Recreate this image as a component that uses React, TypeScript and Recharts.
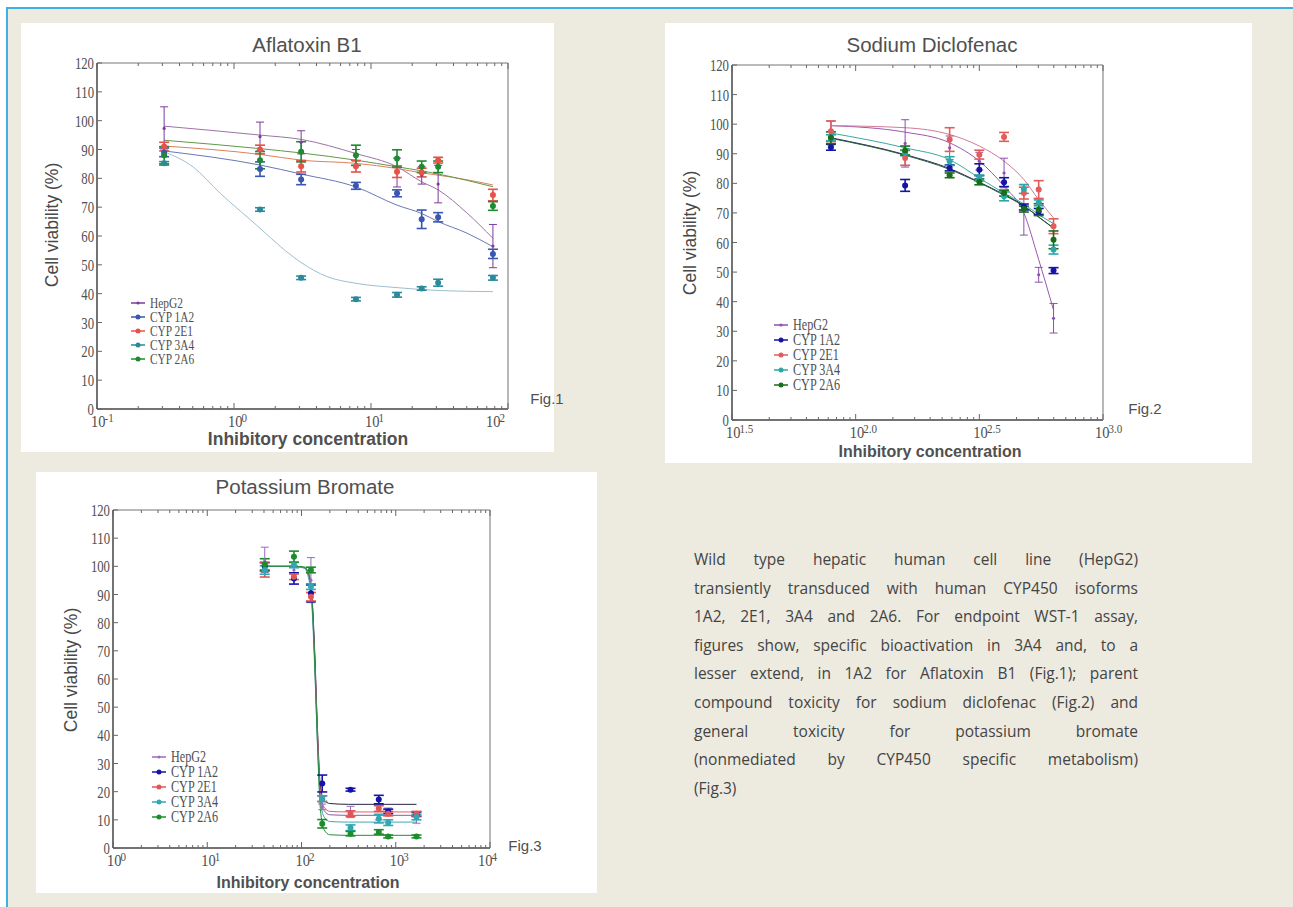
import React from 'react';
import { ComposedChart, Line, Scatter, XAxis, YAxis, ErrorBar, Legend } from 'recharts';

const seriesNames = ['HepG2', 'CYP 1A2', 'CYP 2E1', 'CYP 3A4', 'CYP 2A6'];
const yTicks = [0, 10, 20, 30, 40, 50, 60, 70, 80, 90, 100, 110, 120];

// Fig.1 Aflatoxin B1 (x = log10 concentration)
const aflaMajors = [-1, 0, 1, 2];
const aflaExp = ['-1', '0', '1', '2'];
const aflaX = [-0.51, 0.19, 0.49, 0.89, 1.19, 1.37, 1.49, 1.89];
const aflaHepG2 = [97.3, 94.5, 92.5, 88, 82, 81, 78, 56.5];
const aflaHepG2Err = [7.5, 5, 4, 2, 5, 3, 6.5, 7.5];
const afla1A2 = [89, 83.2, 79.6, 77.4, 74.8, 65.8, 66.5, 53.8];
const afla1A2Err = [1.5, 2.5, 1.8, 1.2, 1.2, 3.2, 1.6, 1.6];
const afla2E1 = [91, 90, 84.2, 84.2, 82.3, 82, 86.3, 74.2];
const afla2E1Err = [1.5, 1.5, 2, 2, 2, 1.5, 1, 2];
const afla3A4 = [85.2, 69.2, 45.5, 38.1, 39.6, 41.8, 43.8, 45.5];
const afla3A4Err = [0.6, 0.6, 0.6, 0.6, 0.8, 0.6, 1.2, 0.8];
const afla2A6 = [88, 86.3, 89.2, 88, 86.9, 84, 84, 70.4];
const afla2A6Err = [3, 3, 3.5, 3.5, 3, 2, 2, 1.5];
const aflaFitX = [-0.51, 0.19, 0.49, 0.89, 1.19, 1.37, 1.49, 1.7, 1.89];
const aflaFitHepG2 = [98.1, 95, 93.5, 88.6, 84, 78.8, 76, 68, 59.2];
const aflaFit1A2 = [89.5, 84.6, 81.5, 77, 70.7, 67.8, 65, 61, 56.3];
const aflaFit2E1 = [91.2, 88.3, 86.3, 85.2, 83.4, 81.9, 81.1, 79.5, 77.7];
const aflaFit2A6 = [93.2, 90.3, 88.8, 86.3, 84, 82.6, 81.5, 79.3, 77.1];
const aflaFit3A4X = [-0.51, -0.3, -0.1, 0.19, 0.34, 0.49, 0.68, 0.89, 1.19, 1.49, 1.89];
const aflaFit3A4 = [89.2, 84, 74.8, 62.7, 56.3, 50.8, 45.9, 43.6, 42.1, 41.1, 40.7];

// Fig.2 Sodium Diclofenac
const dicloMajors = [1.5, 2, 2.5, 3];
const dicloExp = ['1.5', '2.0', '2.5', '3.0'];
const dicloX = [1.9, 2.2, 2.38, 2.5, 2.6, 2.68, 2.74, 2.8];
const dicloHepG2 = [97, 93.5, 92, 87.5, 83.5, 71, 49.1, 34.4];
const dicloHepG2Err = [4, 8, 4, 3, 5, 8.5, 2.5, 5];
const diclo1A2 = [92.2, 79.3, 85.2, 84.6, 80.4, 72, 70.5, 50.5];
const diclo1A2Err = [1, 2, 1, 2, 1.5, 1, 1, 1];
const diclo2E1 = [97.6, 88.6, 94.8, 89.7, 95.7, 76.7, 77.9, 65.5];
const diclo2E1Err = [3.5, 2.5, 4, 1.5, 1.5, 2, 3, 2.5];
const diclo3A4 = [95.4, 90.3, 87.5, 81.8, 75.6, 78.1, 73.4, 57.6];
const diclo3A4Err = [1, 1, 1.5, 1, 1.5, 1.5, 1, 1.5];
const diclo2A6 = [95.4, 91.1, 82.7, 80.5, 76.7, 71.3, 71.1, 60.9];
const diclo2A6Err = [2, 1.5, 0.8, 1, 1, 1, 2, 3];
const dicloFitHepG2 = [99.5, 97.3, 93.7, 87.5, 79, 70, 54.2, 37.2];
const dicloFit1A2 = [95.4, 89.7, 85, 80.4, 76.2, 72.5, 68.6, 64.9];
const dicloFit2E1 = [99.5, 98.8, 96.5, 92.6, 87.5, 81.3, 74.5, 68.3];
const dicloFit3A4 = [97, 92, 88, 81.8, 76.7, 73, 69.4, 66.4];
const dicloFit2A6 = [95.2, 89.5, 84.7, 80.2, 76, 72.3, 68.6, 64.8];

// Fig.3 Potassium Bromate
const bromMajors = [0, 1, 2, 3, 4];
const bromExp = ['0', '1', '2', '3', '4'];
const bromX = [1.61, 1.92, 2.1, 2.22, 2.52, 2.82, 2.92, 3.22];
const bromHepG2 = [102.3, 98.7, 95.1, 14.6, 12.8, 11, 13.2, 10.8];
const bromHepG2Err = [4.5, 1.5, 8, 1, 2, 1, 1, 2];
const brom1A2 = [99.9, 95.7, 90.4, 22.9, 20.7, 17.2, 13, 12];
const brom1A2Err = [1.5, 2, 3, 3, 0.5, 1.5, 0.8, 0.8];
const brom2E1 = [98.7, 96.3, 89.2, 17.5, 12.2, 14, 12.2, 12.2];
const brom2E1Err = [2.5, 1, 1.5, 1, 1, 1, 0.8, 0.8];
const brom3A4 = [98.7, 100.5, 92.8, 17.5, 7.2, 10.4, 9, 11];
const brom3A4Err = [1.5, 1, 1, 1, 1, 1.5, 1, 1];
const brom2A6 = [100.7, 103.4, 98.7, 8.6, 5.1, 5.7, 4.1, 4.1];
const brom2A6Err = [2, 2, 1, 1.5, 0.8, 0.8, 0.5, 0.5];
const bromFitX = [1.61, 1.92, 2.03, 2.08, 2.11, 2.14, 2.17, 2.2, 2.24, 2.3, 2.5, 3.22];
const bromFitHepG2 = [100, 100, 99.5, 96, 89, 68, 40, 19, 13.3, 11.8, 11.6, 11.6];
const bromFit1A2 = [100, 100, 99.5, 97, 90, 70, 42, 22, 17, 15.8, 15.5, 15.5];
const bromFit2E1 = [100, 100, 99.5, 96, 88, 67, 40, 20, 14.5, 13, 12.8, 12.8];
const bromFit3A4 = [100, 100, 99.3, 95, 86, 64, 37, 17, 11, 9.4, 9.2, 9.2];
const bromFit2A6 = [100, 100, 99.8, 97, 89, 66, 36, 14, 6.5, 4.7, 4.5, 4.5];

const paragraph = [
  'Wild type hepatic human cell line (HepG2)',
  'transiently transduced with human CYP450 isoforms',
  '1A2, 2E1, 3A4 and 2A6. For endpoint WST-1 assay,',
  'figures show, specific bioactivation in 3A4 and, to a',
  'lesser extend, in 1A2 for Aflatoxin B1 (Fig.1); parent',
  'compound toxicity for sodium diclofenac (Fig.2) and',
  'general toxicity for potassium bromate',
  '(nonmediated by CYP450 specific metabolism)',
  '(Fig.3)',
];

type Series = {
  px: number[]; color: string; fit: string; r: number; y: number[]; err: number[];
  fitX: number[]; fitY: number[];
};

const pts = (x: number[], y: number[], err?: number[]) =>
  x.map((v, i) => (err ? { x: v, y: y[i], err: err[i] } : { x: v, y: y[i] }));

function minorTicks(majors: number[]) {
  const out: number[] = [];
  for (let i = 0; i < majors.length - 1; i++) {
    const span = majors[i + 1] - majors[i];
    for (let k = 2; k <= 9; k++) out.push(majors[i] + span * Math.log10(k));
  }
  return out;
}

const serif = '"Liberation Serif", "Times New Roman", serif';
const sans = '"Liberation Sans", Arial, sans-serif';
const ink = '#505050';

function XTick(props: any) {
  const { x, y, payload, majors, labels, top, lastShift } = props;
  const idx = majors.findIndex((m: number) => Math.abs(m - payload.value) < 1e-6);
  const len = idx >= 0 ? 6 : 3;
  const y2 = top ? y + len : y - len;
  const tx = x - 6 - (idx === majors.length - 1 ? lastShift : 0);
  return (
    <g>
      <line x1={x} y1={y} x2={x} y2={y2} stroke="#666" strokeWidth={1} />
      {!top && idx >= 0 && (
        <text transform={`translate(${tx},${y + 18}) scale(0.85,1)`} textAnchor="start" fontFamily={serif} fontSize={17} fill={ink}>
          10<tspan fontSize={13} dy={-5} dx={-1}>{labels[idx]}</tspan>
        </text>
      )}
    </g>
  );
}

function YTick(props: any) {
  const { x, y, payload, right } = props;
  return (
    <g>
      <line x1={x} y1={y} x2={right ? x - 5 : x + 5} y2={y} stroke="#666" strokeWidth={1} />
      {!right && (
        <text transform={`translate(${x - 3},${y + 6}) scale(0.75,1)`} textAnchor="end" fontFamily={serif} fontSize={17} fill={ink}>
          {payload.value}
        </text>
      )}
    </g>
  );
}

type PanelProps = {
  left: number; top: number; width: number; height: number;
  plot: { l: number; r: number; t: number; b: number };
  domain: [number, number]; majors: number[]; exps: string[]; lastShift: number;
  series: Series[]; title: string; fig: string;
  titlePos: [number, number]; yLabelPos: [number, number]; xLabelPos: [number, number]; figPos: [number, number];
  legendPos: [number, number]; rowH: number; xLabelSize: number;
};

function Panel(p: PanelProps) {
  const ticks = [...p.majors, ...minorTicks(p.majors)].sort((a, b) => a - b);
  const legend = () => (
    <div style={{ fontFamily: serif, color: ink }}>
      {p.series.map((s, i) => (
        <div key={i} style={{ display: 'flex', alignItems: 'center', height: p.rowH }}>
          <svg width={14} height={8} style={{ flex: 'none' }}>
            <line x1={0} y1={4} x2={14} y2={4} stroke={s.color} strokeWidth={1.5} />
            <circle cx={7} cy={4} r={s.r > 2 ? 2.5 : 1.5} fill={s.color} />
          </svg>
          <span style={{ display: 'inline-block', fontSize: p.rowH + 1, lineHeight: `${p.rowH}px`, height: p.rowH, marginLeft: 5, transform: 'scaleX(0.76)', transformOrigin: 'left center', whiteSpace: 'nowrap' }}>
            {seriesNames[i]}
          </span>
        </div>
      ))}
    </div>
  );
  return (
    <div style={{ position: 'absolute', left: p.left, top: p.top, width: p.width, height: p.height, background: '#fff' }}>
      <ComposedChart width={p.width} height={p.height} margin={{ top: p.plot.t - 1, right: p.plot.r - 1, bottom: 0, left: 0 }}>
        <XAxis xAxisId={0} dataKey="x" type="number" domain={p.domain} allowDataOverflow ticks={ticks} interval={0}
          height={p.plot.b} tickSize={0} tickMargin={0} tickLine={false} axisLine={{ stroke: '#444', strokeWidth: 1.5 }}
          tick={(t: any) => <XTick {...t} majors={p.majors} labels={p.exps} lastShift={p.lastShift} />} />
        <XAxis xAxisId="top" orientation="top" dataKey="x" type="number" domain={p.domain} allowDataOverflow ticks={ticks} interval={0}
          height={1} tickSize={0} tickMargin={0} tickLine={false} axisLine={{ stroke: '#777', strokeWidth: 1.2 }}
          tick={(t: any) => <XTick {...t} majors={p.majors} labels={p.exps} top lastShift={0} />} />
        <YAxis yAxisId={0} type="number" domain={[0, 120]} ticks={yTicks} interval={0} width={p.plot.l}
          tickSize={0} tickMargin={0} tickLine={false} axisLine={{ stroke: '#444', strokeWidth: 1.5 }}
          tick={(t: any) => <YTick {...t} />} />
        <YAxis yAxisId="right" orientation="right" type="number" domain={[0, 120]} ticks={yTicks} interval={0} width={1}
          tickSize={0} tickMargin={0} tickLine={false} axisLine={{ stroke: '#888', strokeWidth: 1.2 }}
          tick={(t: any) => <YTick {...t} right />} />
        <Legend layout="vertical" align="center" verticalAlign="middle" content={legend}
          wrapperStyle={{ left: p.legendPos[0], top: p.legendPos[1], width: 100 }} />
        {p.series.map((s, i) => (
          <Line key={`f${i}`} data={pts(s.fitX, s.fitY)} dataKey="y" type="monotone" stroke={s.fit} strokeWidth={1}
            dot={false} isAnimationActive={false} legendType="none" />
        ))}
        {p.series.map((s, i) => (
          <Scatter key={`s${i}`} data={pts(s.px, s.y, s.err)} dataKey="y"
            isAnimationActive={false} legendType="none"
            shape={(d: any) => <circle cx={d.cx} cy={d.cy} r={s.r} fill={s.color} />}>
            <ErrorBar dataKey="err" direction="y" width={s.r > 2 ? 5 : 4} stroke={s.color} strokeWidth={s.r > 2 ? 1.6 : 1} />
          </Scatter>
        ))}
      </ComposedChart>
      <div style={{ position: 'absolute', left: p.titlePos[0], top: p.titlePos[1], transform: 'translate(-50%,-50%)', fontFamily: sans, fontSize: 20.5, color: ink, whiteSpace: 'nowrap' }}>{p.title}</div>
      <div style={{ position: 'absolute', left: p.yLabelPos[0], top: p.yLabelPos[1], transform: 'translate(-50%,-50%) rotate(-90deg)', fontFamily: sans, fontSize: 17.5, color: '#484848', whiteSpace: 'nowrap' }}>Cell viability (%)</div>
      <div style={{ position: 'absolute', left: p.xLabelPos[0], top: p.xLabelPos[1], transform: 'translate(-50%,-50%)', fontFamily: sans, fontSize: p.xLabelSize, fontWeight: 'bold', color: ink, whiteSpace: 'nowrap', lineHeight: 1 }}>Inhibitory concentration</div>
      <div style={{ position: 'absolute', left: p.figPos[0], top: p.figPos[1], transform: 'translate(-50%,-50%)', fontFamily: sans, fontSize: 15, color: ink, whiteSpace: 'nowrap' }}>{p.fig}</div>
    </div>
  );
}

const mk = (px: number[], color: string, fit: string, r: number, y: number[], err: number[], fitX: number[], fitY: number[]): Series =>
  ({ px, color, fit, r, y, err, fitX, fitY });

const aflaSeries = [
  mk(aflaX, '#7d3c98', '#9c73a8', 1.6, aflaHepG2, aflaHepG2Err, aflaFitX, aflaFitHepG2),
  mk(aflaX, '#3a56b0', '#6a78b8', 3, afla1A2, afla1A2Err, aflaFitX, aflaFit1A2),
  mk(aflaX, '#e8504a', '#e0805a', 3, afla2E1, afla2E1Err, aflaFitX, aflaFit2E1),
  mk(aflaX, '#2a8a9a', '#9dbfd0', 3, afla3A4, afla3A4Err, aflaFit3A4X, aflaFit3A4),
  mk(aflaX, '#1f8a32', '#5f9a48', 3, afla2A6, afla2A6Err, aflaFitX, aflaFit2A6),
];
const dicloSeries = [
  mk(dicloX, '#8e4fb0', '#9a58b0', 1.6, dicloHepG2, dicloHepG2Err, dicloX, dicloFitHepG2),
  mk(dicloX, '#1515a5', '#2a2a70', 3, diclo1A2, diclo1A2Err, dicloX, dicloFit1A2),
  mk(dicloX, '#e25c5c', '#d27a9a', 3, diclo2E1, diclo2E1Err, dicloX, dicloFit2E1),
  mk(dicloX, '#2aa8a8', '#3aa8a0', 3, diclo3A4, diclo3A4Err, dicloX, dicloFit3A4),
  mk(dicloX, '#1a6e1a', '#2a5a2a', 3, diclo2A6, diclo2A6Err, dicloX, dicloFit2A6),
];
const bromSeries = [
  mk(bromX, '#9a6ac0', '#8a5aa8', 1.6, bromHepG2, bromHepG2Err, bromFitX, bromFitHepG2),
  mk(bromX, '#1414aa', '#252540', 3, brom1A2, brom1A2Err, bromFitX, bromFit1A2),
  mk(bromX, '#e25555', '#e06060', 3, brom2E1, brom2E1Err, bromFitX, bromFit2E1),
  mk(bromX, '#30a8b4', '#40a8b0', 3, brom3A4, brom3A4Err, bromFitX, bromFit3A4),
  mk(bromX, '#1d8c2c', '#2a8a3a', 3, brom2A6, brom2A6Err, bromFitX, bromFit2A6),
];

export default function App() {
  return (
    <div style={{ position: 'absolute', left: 0, top: 0, width: 1293, height: 907, background: '#fff', overflow: 'hidden' }}>
      <div style={{ position: 'absolute', left: 6, top: 7, right: 0, bottom: 0, background: '#edeae0', borderTop: '2px solid #3fb0e0', borderLeft: '2px solid #3fb0e0' }} />
      <Panel left={21} top={23} width={533} height={429} plot={{ l: 76, r: 46, t: 40, b: 43 }}
        domain={[-1, 2]} majors={aflaMajors} exps={aflaExp} lastShift={16} series={aflaSeries}
        title="Aflatoxin B1" fig="Fig.1" titlePos={[286, 22]} yLabelPos={[31, 202]} xLabelPos={[287, 417]} figPos={[526, 375]}
        legendPos={[110, 273]} rowH={14} xLabelSize={17.5} />
      <Panel left={665} top={23} width={587} height={440} plot={{ l: 67, r: 149, t: 42, b: 43 }}
        domain={[1.5, 3]} majors={dicloMajors} exps={dicloExp} lastShift={2} series={dicloSeries}
        title="Sodium Diclofenac" fig="Fig.2" titlePos={[267, 22]} yLabelPos={[25, 210]} xLabelPos={[265, 429]} figPos={[480, 385]}
        legendPos={[109, 294]} rowH={15} xLabelSize={16} />
      <Panel left={36} top={472} width={561} height={421} plot={{ l: 77, r: 107, t: 38, b: 45 }}
        domain={[0, 4]} majors={bromMajors} exps={bromExp} lastShift={6} series={bromSeries}
        title="Potassium Bromate" fig="Fig.3" titlePos={[269, 15]} yLabelPos={[35, 198]} xLabelPos={[272, 411]} figPos={[489, 373]}
        legendPos={[116, 277]} rowH={15} xLabelSize={16} />
      <div style={{ position: 'absolute', left: 694, top: 545, width: 444, fontFamily: '"Open Sans", sans-serif', fontSize: 15.5, lineHeight: '28.6px', color: '#444' }}>
        {paragraph.map((line, i) => (
          <div key={i} style={{ textAlign: 'justify', textAlignLast: i < paragraph.length - 1 ? 'justify' : 'left', whiteSpace: 'nowrap' }}>{line}</div>
        ))}
      </div>
    </div>
  );
}
